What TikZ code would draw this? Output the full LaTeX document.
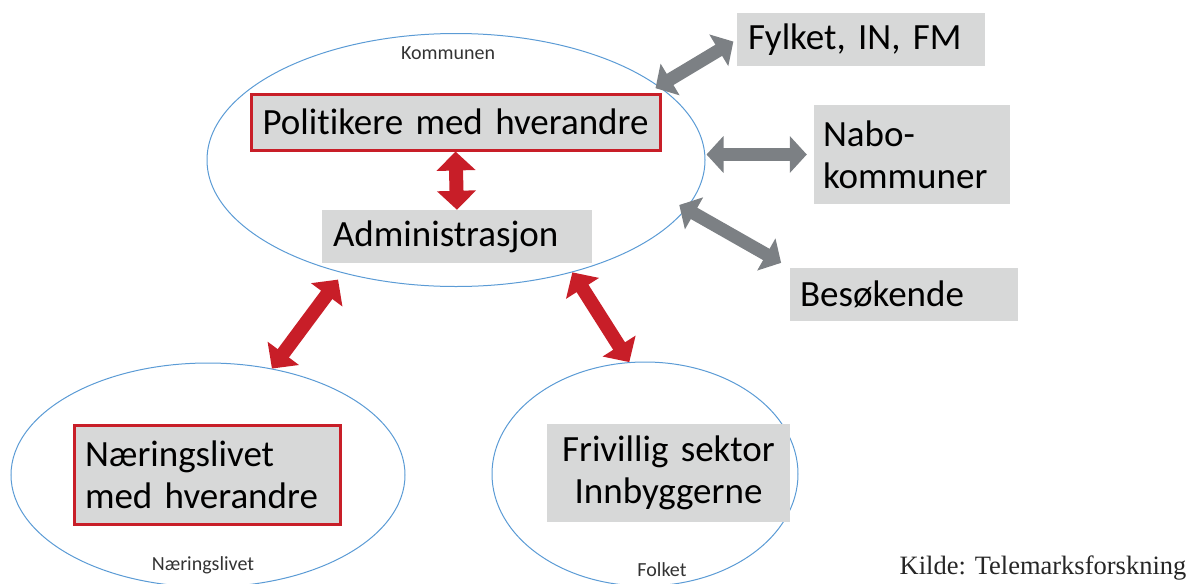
\documentclass[tikz,border=0pt]{standalone}
\usepackage{fontspec}
\setmainfont{Carlito}[Ligatures=NoCommon]
\newfontfamily\kildefont{Liberation Serif}
\usepackage{tikz}
\usetikzlibrary{shapes.geometric, arrows.meta, positioning}
\usepackage{xcolor}
\definecolor{ringBlue}{RGB}{91,155,213}
\definecolor{linkRed}{RGB}{200,30,40}
\definecolor{linkGray}{RGB}{124,128,132}
\definecolor{boxGray}{RGB}{215,216,216}

\begin{document}
\begin{tikzpicture}[
  x=1pt, y=-1pt,
  ring/.style={
    ellipse, draw=ringBlue, line width=1pt, inner sep=0pt
  },
  actor/.style={
    rectangle, fill=boxGray, inner xsep=11pt, inner ysep=0pt,
    text width=#1, align=left, minimum height=53pt,
    font=\fontsize{37}{42}\selectfont
  },
  actor/.default=200pt,
  hot/.style={draw=linkRed, line width=3pt},
  tag/.style={inner sep=0pt, font=\fontsize{20}{24}\selectfont, text=black!80},
  redlink/.style={
    line width=14pt, linkRed,
    {Triangle[width=38pt, length=19pt]}-{Triangle[width=38pt, length=19pt]}
  },
  graylink/.style={
    line width=13pt, linkGray,
    {Triangle[width=36pt, length=17pt]}-{Triangle[width=36pt, length=17pt]}
  }
]
  \useasboundingbox (0,0) rectangle (1195,584);

  % Rings
  \node[ring, minimum width=498pt, minimum height=253pt] (komm) at (456,160) {};
  \node[ring, minimum width=394pt, minimum height=224pt] (naer) at (208,475) {};
  \node[ring, minimum width=306pt, minimum height=224pt] (folk) at (645,474) {};

  % Boxes
  \node[actor=387pt, hot, align=center, minimum height=56pt] (pol)
    at (455.5,122) {Politikere med hverandre};
  \node[actor=248pt] (adm) at (457,236.5) {Administrasjon};
  \node[actor=226pt] (fylk) at (861,39.5) {Fylket, IN, FM};
  \node[actor=178pt, inner xsep=9pt, minimum height=99pt] (nabo)
    at (912,154.5) {Nabo-\\kommuner};
  \node[actor=208pt, inner xsep=10pt] (bes) at (904,294.5) {Besøkende};
  \node[actor=244pt, hot, minimum height=99pt] (naerbox)
    at (207,474.5) {Næringslivet\\med hverandre};
  \node[actor=221pt, align=center, minimum height=98pt] (friv)
    at (668.5,473) {Frivillig sektor\\Innbyggerne};

  % Links
  \draw[redlink] (pol.south) -- (adm.north);
  \draw[redlink, shorten >=8pt] (naer.59) -- (komm.-135);
  \draw[redlink] (komm.-44) -- (folk.98);
  \draw[graylink, shorten <=-4pt, shorten >=4pt] (komm.20) -- (fylk.west);
  \draw[graylink, shorten <=1pt, shorten >=7pt] (nabo.west -| komm.east) -- (nabo.west);
  \draw[graylink, shorten <=-8pt, shorten >=10pt] (komm.-12) -- (bes.north west);

  % Labels
  \node[tag] (kommtag) at (448,53) {Kommunen};
  \node[tag] (naertag) at (203,565) {Næringslivet};
  \node[tag] (folktag) at (662,570) {Folket};
  \node[inner sep=0pt, font=\kildefont\fontsize{26.5}{30}\selectfont, text=black!85]
    (kilde) at (1043,568) {Kilde: Telemarksforskning};
\end{tikzpicture}
\end{document}
